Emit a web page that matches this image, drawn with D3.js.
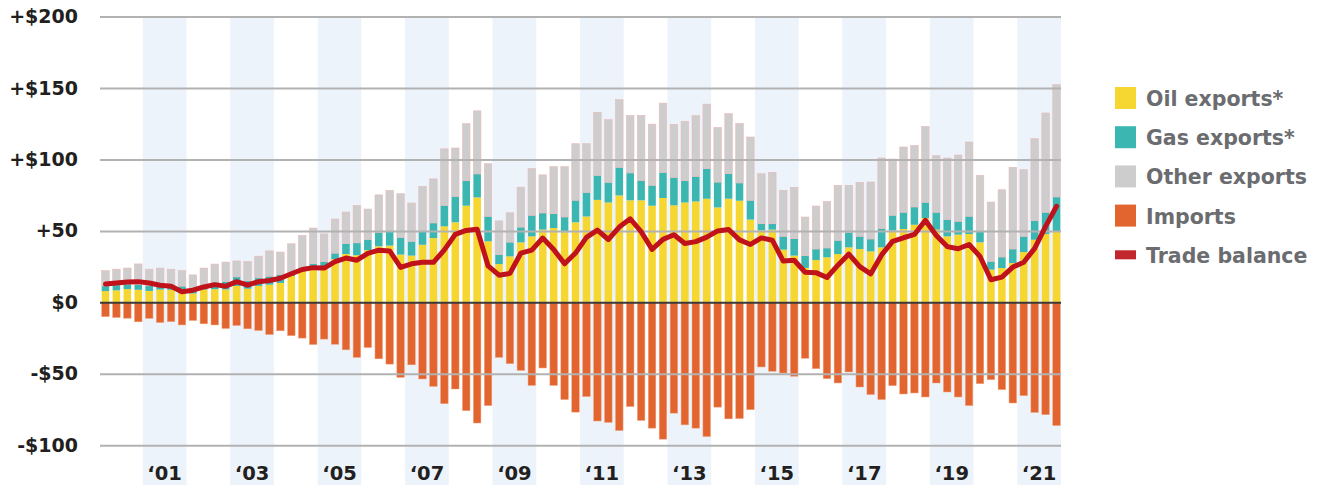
<!DOCTYPE html>
<html>
<head>
<meta charset="utf-8">
<script src="https://cdn.jsdelivr.net/npm/d3@7"></script>
<style>
  html, body { margin: 0; padding: 0; background: #fff; }
  svg { display: block; font-family: "DejaVu Sans", sans-serif; font-weight: bold; }
</style>
</head>
<body>
<svg id="chart" width="1327" height="485"></svg>
<script>
const years = ["2000","2001","2002","2003","2004","2005","2006","2007","2008","2009","2010",
               "2011","2012","2013","2014","2015","2016","2017","2018","2019","2020","2021"];
const quarters = ["Q1","Q2","Q3","Q4"];
const categories = years.flatMap(y => quarters.map(q => y + " " + q));

const oilExports = [7.9,8.4,9.3,8.8, 8.0,9.0,8.8,6.4, 6.2,9.0,9.2,9.0, 11.5,9.6,11.5,12.4,
  13.6,18.5,22.5,23.7, 24.0,30.3,33.8,33.0, 36.5,39.2,39.7,33.4, 32.7,40.3,45.0,53.2,
  56.0,67.6,73.4,42.7, 26.8,32.2,42.0,46.2, 50.9,52.0,49.0,56.0, 60.1,71.7,69.9,74.8,
  71.4,71.4,67.6,73.0, 67.9,69.9,70.6,72.5, 66.4,72.5,71.1,57.9, 50.4,50.9,36.9,32.7,
  24.1,29.6,31.5,33.8, 38.5,37.3,35.7,38.5, 50.2,51.3,54.3,59.0, 50.9,46.2,47.4,47.8,
  42.0,22.9,24.0,27.5, 35.2,43.8,47.8,49.7];
const gasExports = [3.6,3.8,3.5,3.8, 3.6,2.8,2.3,4.9, 2.3,2.5,4.9,5.6, 6.3,5.4,5.6,5.9,
  5.9,2.3,2.0,3.3, 4.4,4.1,7.3,8.6, 7.5,9.8,9.9,12.0, 9.9,9.3,10.5,14.6,
  18.1,17.5,16.4,17.5, 6.6,9.9,10.6,14.7, 11.6,10.0,10.7,15.4, 16.8,17.1,14.0,19.6,
  19.1,13.9,14.3,17.9, 19.5,15.2,17.5,21.0, 17.7,17.5,12.4,13.5, 4.6,4.1,9.3,11.9,
  8.6,7.7,6.5,9.6, 10.5,8.9,8.6,13.1, 10.7,11.7,12.4,11.0, 12.1,11.7,9.3,12.4,
  7.7,5.8,7.7,9.8, 11.0,13.3,15.2,24.0];
const otherExports = [10.7,11.0,11.2,14.3, 11.6,12.2,12.1,11.0, 10.7,12.5,12.7,13.6, 11.2,13.6,15.2,17.7,
  15.7,20.2,22.4,25.0, 19.5,23.9,22.1,26.2, 21.3,26.2,28.8,30.6, 26.9,31.5,30.9,39.6,
  33.9,39.9,44.2,36.8, 23.6,20.6,28.0,32.7, 26.7,33.0,35.3,39.6, 34.1,44.2,43.9,47.4,
  40.3,45.5,42.8,48.5, 37.1,41.6,42.5,45.2, 38.3,42.0,41.7,44.3, 35.0,36.0,32.2,35.9,
  27.0,30.1,32.7,38.5, 32.9,37.8,39.9,49.4, 39.4,45.7,43.1,53.1, 39.6,43.1,46.4,52.0,
  39.2,41.5,47.1,57.2, 46.6,57.4,69.5,78.6];
const imports = [-10.0,-10.6,-11.1,-13.6, -11.2,-14.1,-13.5,-15.8, -12.7,-15.0,-15.8,-18.3, -16.2,-18.5,-19.7,-22.5,
  -19.9,-23.3,-25.0,-29.5, -25.7,-29.3,-33.2,-38.5, -31.6,-39.5,-43.2,-52.5, -43.7,-53.6,-58.8,-70.9,
  -60.6,-75.8,-84.4,-72.2, -38.5,-42.9,-47.6,-58.1, -45.9,-58.1,-68.0,-76.8, -65.9,-83.0,-84.0,-89.7,
  -72.9,-82.6,-88.0,-95.7, -77.5,-85.7,-88.0,-93.9, -73.3,-81.5,-81.3,-75.1, -45.2,-48.2,-49.4,-51.7,
  -39.1,-46.4,-53.4,-56.4, -48.7,-59.2,-64.5,-68.0, -58.3,-64.1,-63.4,-66.2, -56.4,-62.7,-66.2,-72.2,
  -56.9,-54.1,-61.1,-70.4, -65.3,-77.0,-78.6,-86.2];
const tradeBalance = [12.8,13.5,14.2,14.5, 13.5,12.0,11.3,7.5, 8.5,10.8,12.4,11.3, 14.5,12.0,14.5,15.3,
  16.9,20.0,23.0,24.3, 24.0,28.5,31.0,29.5, 34.3,36.5,36.0,24.5, 27.0,28.0,28.0,36.7,
  47.6,50.3,51.2,25.5, 19.0,20.3,34.5,36.5, 45.0,37.0,27.0,34.5, 45.5,50.5,44.0,52.7,
  58.5,49.5,37.1,44.1, 47.3,41.2,42.5,45.6, 50.0,51.0,43.7,40.5, 45.1,43.5,28.9,29.5,
  21.1,20.8,17.4,26.0, 33.8,25.0,19.9,33.2, 42.7,45.2,47.5,57.4, 46.8,39.0,37.5,40.5,
  32.1,15.8,17.7,24.7, 28.1,37.8,53.2,67.2];

const yTickValues = [200, 150, 100, 50, 0, -50, -100];
const yTickLabels = ["+$200", "+$150", "+$100", "+50", "$0", "-$50", "-$100"];
const xTickYears = ["2001","2003","2005","2007","2009","2011","2013","2015","2017","2019","2021"];
const xTickLabels = ["\u201801","\u201803","\u201805","\u201807","\u201809","\u201811","\u201813","\u201815","\u201817","\u201819","\u201821"];
const seriesNames = ["Oil exports*", "Gas exports*", "Other exports", "Imports", "Trade balance"];
const seriesColors = ["#f6d631", "#3bb6b1", "#cdcdcd", "#e2652f", "#c1272d"];

const svg = d3.select("#chart");
const left = 99, right = 1061;

const x = d3.scaleBand().domain(categories).range([left + 1, right + 1]).paddingInner(0.31).paddingOuter(0.155);
const xYear = d3.scaleBand().domain(years).range([left, right]);
const y = d3.scaleLinear().domain([-100, 200]).range([445.3, 16.5]);

// shaded odd-year bands
svg.append("g").selectAll("rect").data(xTickYears).join("rect")
  .attr("x", d => xYear(d)).attr("width", xYear.bandwidth())
  .attr("y", 17).attr("height", 485 - 17)
  .attr("fill", "#edf3fa");

// stacked exports
const rows = categories.map((c, i) => ({ cat: c, oil: oilExports[i], gas: gasExports[i], other: otherExports[i] }));
const stack = d3.stack().keys(["oil", "gas", "other"]);
const layers = stack(rows);
const gBars = svg.append("g");
gBars.selectAll("g.layer").data(layers).join("g").attr("class", "layer")
  .attr("fill", (d, i) => seriesColors[i])
  .attr("stroke", (d, i) => i === 2 ? "#eab9b9" : "none")
  .attr("stroke-width", 0.6)
  .selectAll("rect").data(d => d).join("rect")
  .attr("x", d => x(d.data.cat))
  .attr("width", x.bandwidth())
  .attr("y", d => y(d[1]))
  .attr("height", d => Math.max(0, y(d[0]) - y(d[1])));

// imports
gBars.append("g").selectAll("rect").data(imports).join("rect")
  .attr("x", (d, i) => x(categories[i]))
  .attr("width", x.bandwidth())
  .attr("y", y(0))
  .attr("height", d => y(d) - y(0))
  .attr("fill", seriesColors[3])
  .attr("stroke", "#f2a27e").attr("stroke-width", 0.5);

// y axis + gridlines
const yAxis = d3.axisLeft(y).tickValues(yTickValues)
  .tickFormat((d, i) => yTickLabels[i])
  .tickSize(-(right - left - 1)).tickPadding(22);
const gy = svg.append("g").attr("transform", `translate(${left + 1},0)`).call(yAxis);
gy.select(".domain").remove();
gy.selectAll(".tick line").attr("stroke", "#b2b2b2").attr("stroke-width", 2)
  .filter(d => d === 0).attr("stroke", "#3a3a3a");
gy.selectAll(".tick text").attr("fill", "#231f20").attr("font-size", 19)
  .attr("font-weight", "bold").attr("font-family", "DejaVu Sans");

// x axis labels
const xAxis = d3.axisBottom(xYear).tickValues(xTickYears)
  .tickFormat((d, i) => xTickLabels[i]).tickSize(0).tickPadding(0);
const gx = svg.append("g").attr("transform", "translate(0,462)").call(xAxis);
gx.select(".domain").remove();
gx.selectAll(".tick text").attr("fill", "#231f20").attr("font-size", 19.5)
  .attr("font-weight", "bold").attr("font-family", "DejaVu Sans").attr("dy", "0.9em");

// trade balance line
const line = d3.line()
  .x((d, i) => x(categories[i]) + x.bandwidth() / 2)
  .y(d => y(d));
svg.append("path").datum(tradeBalance)
  .attr("d", line).attr("fill", "none")
  .attr("stroke", "#c0121b").attr("stroke-width", 5)
  .attr("stroke-linejoin", "round").attr("stroke-linecap", "round");

// legend
const legend = svg.append("g").attr("transform", "translate(1115,87)");
const items = legend.selectAll("g").data(seriesNames).join("g")
  .attr("transform", (d, i) => `translate(0,${i * 39.2})`);
items.append("rect")
  .attr("x", 0).attr("width", 21)
  .attr("y", (d, i) => i === 4 ? 6.5 : 0)
  .attr("height", (d, i) => i === 4 ? 9 : 22)
  .attr("fill", (d, i) => seriesColors[i]);
items.append("text")
  .attr("x", 31).attr("y", 19)
  .attr("fill", "#6b6c6f").attr("font-size", 20.5)
  .attr("font-weight", "bold").attr("font-family", "DejaVu Sans")
  .text(d => d);
</script>
</body>
</html>
